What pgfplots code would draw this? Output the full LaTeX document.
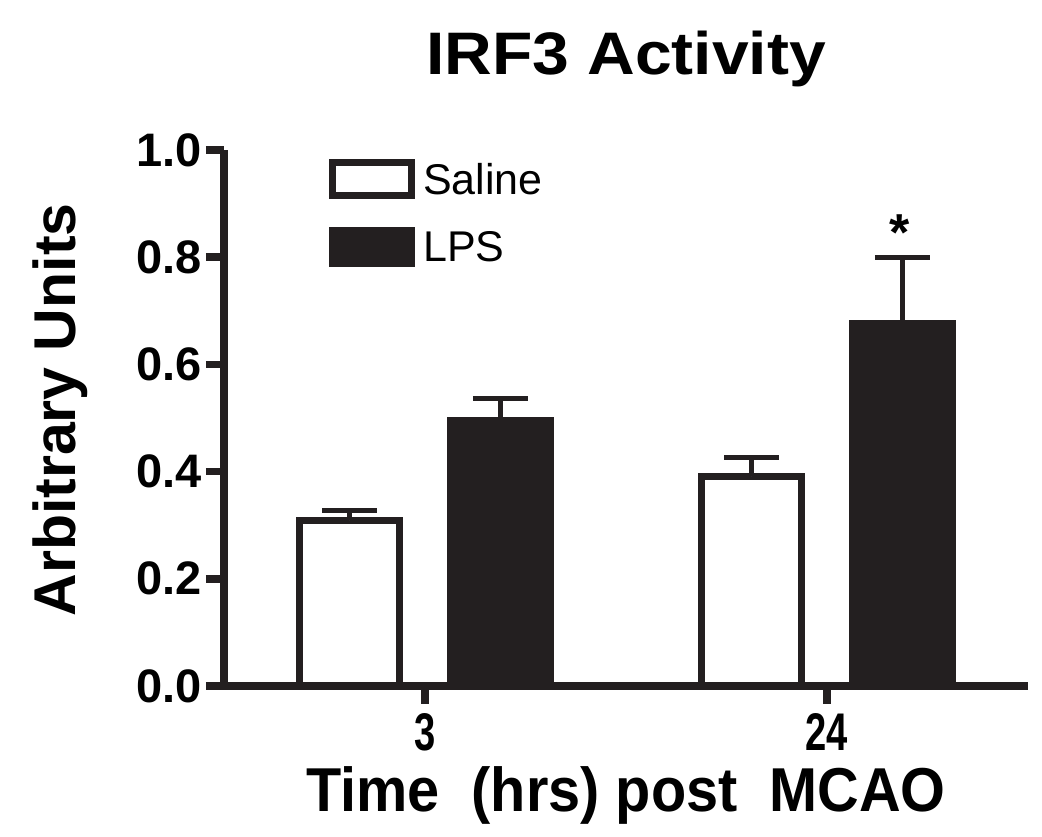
\documentclass[border=0pt]{standalone}
\usepackage{fontspec}
\setmainfont{Liberation Sans}
\newfontfamily\titlefont{Liberation Sans}[FakeStretch=1.1]
\newfontfamily\narrowfont{Liberation Sans}[FakeStretch=0.72]
\newfontfamily\xlabfont{Liberation Sans}[FakeStretch=0.93]
\usepackage{pgfplots}
\pgfplotsset{compat=1.18}
\definecolor{barblack}{HTML}{231F20}
\begin{document}
\begin{tikzpicture}
\begin{axis}[
  scale only axis, width=804pt, height=536pt,
  xmin=0.5, xmax=2.5, ymin=0, ymax=1,
  clip=false,
  axis x line=bottom, axis y line=left,
  axis line style={-, line width=8pt, draw=barblack},
  xtick={1,2}, xticklabels={3,24},
  ytick={0,0.2,0.4,0.6,0.8,1}, yticklabels={0.0,0.2,0.4,0.6,0.8,1.0},
  tick align=outside, major tick length=18pt,
  major tick style={line width=7.5pt, draw=barblack},
  minor tick num=0,
  xticklabel style={font=\narrowfont\bfseries\fontsize{53}{53}\selectfont, anchor=base, yshift=-47pt},
  yticklabel style={font=\bfseries\fontsize{47}{47}\selectfont, anchor=east, inner sep=0pt, xshift=-4pt},
  title={IRF3 Activity},
  title style={font=\titlefont\bfseries\fontsize{60}{62}\selectfont, at={(axis description cs:0.5,1)}, anchor=base, yshift=69pt},
  xlabel={Time\ \ (hrs) post\ \ MCAO},
  xlabel style={font=\xlabfont\bfseries\fontsize{62}{62}\selectfont, at={(axis description cs:0.5,-0.235)}, anchor=base},
  ylabel={Arbitrary Units},
  ylabel style={font=\bfseries\fontsize{59}{59}\selectfont, at={(axis description cs:-0.1853,0.515)}, anchor=base},
  ybar, bar width=0.25,
  legend cell align=left,
  legend style={draw=none, fill=none, at={(axis description cs:0.1306,0.983)}, anchor=north west, inner sep=0pt, row sep=28pt, font=\fontsize{43}{45}\selectfont},
]
\addplot[fill=white, draw=barblack, line width=7pt, bar shift=-0.1875,
  legend image code/.code={\draw[line width=7pt, draw=barblack, fill=white] (0pt,-16.5pt) rectangle (79pt,16.5pt); \path (85pt,0pt);},
  error bars/.cd, y dir=plus, y explicit,
  error bar style={line width=5pt, draw=barblack},
  error mark options={rotate=90, mark size=27.5pt, line width=5pt, draw=barblack}]
  coordinates {(1,0.309) +- (0,0.019) (2,0.391) +- (0,0.036)};
\addlegendentry{Saline}
\addplot[fill=barblack, draw=barblack, line width=7pt, bar shift=0.1875,
  legend image code/.code={\draw[line width=7pt, draw=barblack, fill=barblack] (0pt,-16.5pt) rectangle (79pt,16.5pt); \path (85pt,0pt);},
  error bars/.cd, y dir=plus, y explicit,
  error bar style={line width=5pt, draw=barblack},
  error mark options={rotate=90, mark size=27.5pt, line width=5pt, draw=barblack}]
  coordinates {(1,0.495) +- (0,0.042) (2,0.677) +- (0,0.122)};
\addlegendentry{LPS}
\node[font=\bfseries\fontsize{52}{52}\selectfont, anchor=base] at (axis cs:2.18,0.812) {*};
\end{axis}
\pgfresetboundingbox
\path (-224pt,-151pt) rectangle (818pt,686pt);
\end{tikzpicture}
\end{document}
